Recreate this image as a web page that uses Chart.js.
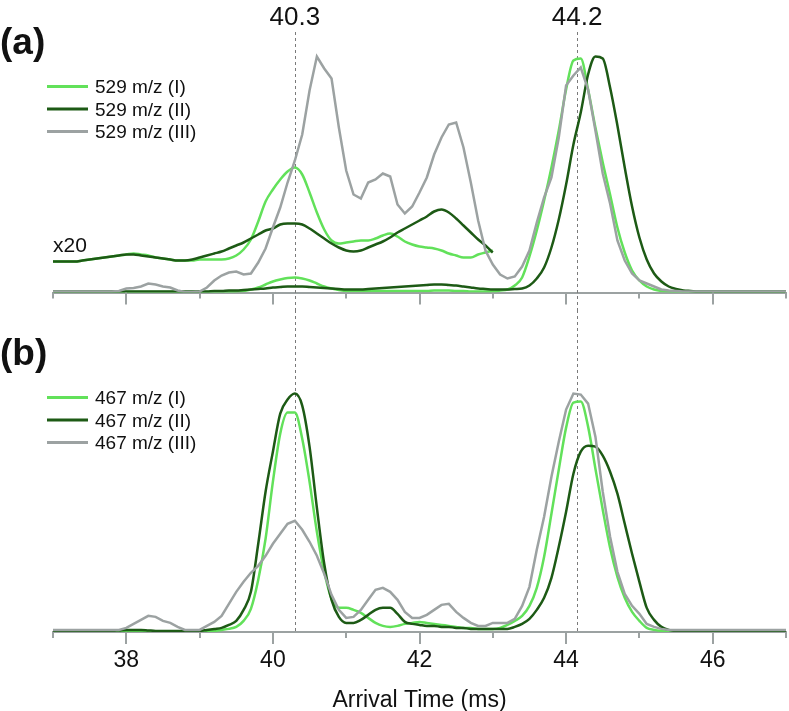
<!DOCTYPE html>
<html lang="en">
<head>
  <meta charset="UTF-8">
  <title>Arrival Time Distributions</title>
  <script src="https://cdn.jsdelivr.net/npm/chart.js"></script>
  <style>
    body { margin: 0; background: #fff; }
    #wrap { position: relative; width: 789px; height: 711px; }
    #wrap canvas { position: absolute; left: 0; }
  </style>
</head>
<body>
  <div id="wrap">
    <canvas id="chartA" width="789" height="310" style="top:0"></canvas>
    <canvas id="chartB" width="789" height="401" style="top:310px"></canvas>
  </div>

  <script>
    // arrival time grid (ms)
    const arrivalTimes = [
      37.0, 37.1, 37.2, 37.3, 37.4, 37.5, 37.6, 37.7, 37.8, 37.9,
      38.0, 38.1, 38.2, 38.3, 38.4, 38.5, 38.6, 38.7, 38.8, 38.9,
      39.0, 39.1, 39.2, 39.3, 39.4, 39.5, 39.6, 39.7, 39.8, 39.9,
      40.0, 40.1, 40.2, 40.3, 40.4, 40.5, 40.6, 40.7, 40.8, 40.9,
      41.0, 41.1, 41.2, 41.3, 41.4, 41.5, 41.6, 41.7, 41.8, 41.9,
      42.0, 42.1, 42.2, 42.3, 42.4, 42.5, 42.6, 42.7, 42.8, 42.9,
      43.0, 43.1, 43.2, 43.3, 43.4, 43.5, 43.6, 43.7, 43.8, 43.9,
      44.0, 44.1, 44.2, 44.3, 44.4, 44.5, 44.6, 44.7, 44.8, 44.9,
      45.0, 45.1, 45.2, 45.3, 45.4, 45.5, 45.6, 45.7, 45.8, 45.9,
      46.0, 46.1, 46.2, 46.3, 46.4, 46.5, 46.6, 46.7, 46.8, 46.9,
      47.0
    ];

    // panel (a): 529 m/z
    const a529_I = [
      0.5, 0.5, 0.5, 0.5, 0.5, 0.5, 0.5, 0.5, 0.5, 0.5,
      0.5, 0.5, 0.5, 0.5, 0.5, 0.5, 0.5, 0.5, 0.5, 0.5,
      0.5, 0.5, 0.5, 0.5, 0.5, 1, 1.5, 3, 5, 8,
      11, 13, 14.5, 15, 14, 12, 9, 6, 4, 2.5,
      1.5, 1.5, 1.5, 1.5, 1.5, 1.5, 1.5, 1.5, 1.5, 1.5,
      1.5, 1.5, 2, 2, 2, 1.5, 1.5, 1, 1, 1,
      1, 2, 3, 7, 15, 36, 62, 92, 125, 162,
      203, 232, 234, 203, 165, 130, 98, 65, 40, 22,
      12, 6, 3, 1.5, 1, 0.5, 0.5, 0.5, 0.5, 0.5,
      0.5, 0.5, 0.5, 0.5, 0.5, 0.5, 0.5, 0.5, 0.5, 0.5,
      0.5
    ];
    const a529_II = [
      1, 1, 1, 1, 1, 1, 1, 1, 1, 1,
      1, 1, 1, 1, 1, 1, 1, 1, 1, 1,
      1, 1, 1.5, 1.5, 2, 2, 2.5, 3, 3.5, 4,
      5, 5.5, 6, 6, 6, 5.5, 5, 4.5, 4, 3.5,
      3, 3, 3, 3.5, 4, 4.5, 5, 5.5, 6, 6.5,
      7, 7.5, 8, 8, 7.5, 7, 6, 5, 4, 3.5,
      3, 3, 3, 3.5, 4, 7, 14, 25, 45, 73,
      108, 148, 180, 218, 236, 234, 205, 167, 125, 86,
      55, 33, 19, 11, 6, 3.5, 2, 1.5, 1, 1,
      1, 1, 1, 1, 1, 1, 1, 1, 1, 1,
      1
    ];
    const a529_III = [
      1, 1, 1, 1, 1, 1, 1, 1, 1, 1.5,
      4, 4.5, 6, 9, 8, 6, 5, 2, 0.5, 0.5,
      1, 5, 12, 17, 20, 21, 18, 19, 30, 44,
      65, 85, 110, 132, 158, 202, 236, 224, 214, 165,
      122, 98, 94, 110, 113, 119, 116, 88, 79, 86,
      100, 115, 138, 155, 168, 170, 145, 110, 72, 42,
      28, 18, 14, 16, 26, 42, 70, 95, 115, 155,
      207, 217, 225, 203, 162, 119, 89, 52, 32, 19,
      12, 9, 6, 3, 2, 1.5, 1, 1, 1, 1,
      1, 1, 1, 1, 1, 1, 1, 1, 1, 1,
      1
    ];
    // x20 magnified traces, 37.0 - 43.0 ms
    const a529_I_x20 = [
      31, 31, 31, 31, 32, 33, 34, 35, 36, 37,
      38, 39, 38, 37, 35, 34, 33, 32, 32, 32,
      33, 33, 33, 33, 34, 37, 43, 53, 71, 91,
      103, 113, 121, 125, 118, 100, 80, 63, 52, 49,
      50, 51, 52, 52, 54, 57, 59, 56, 51, 48,
      46, 45, 44, 42, 39, 37, 35, 35, 38, 40,
      42
    ];
    const a529_II_x20 = [
      31, 31, 31, 31, 32, 33, 34, 35, 36, 37,
      38, 38, 37, 36, 35, 34, 33, 32, 32, 33,
      35, 37, 39, 41, 44, 47, 50, 54, 58, 62,
      64, 68, 69, 69, 68, 64, 59, 54, 49, 45,
      42, 41, 42, 45, 48, 51, 55, 60, 64, 68,
      72, 76, 81, 83, 80, 74, 67, 60, 53, 47,
      40
    ];

    // panel (b): 467 m/z
    const b467_I = [
      0.5, 0.5, 0.5, 0.5, 0.5, 0.5, 0.5, 0.5, 0.5, 0.5,
      0.5, 0.5, 0.5, 0.5, 0.5, 0.5, 0.5, 0.5, 0.5, 0.5,
      0.5, 1, 1, 2, 3, 5, 11, 23, 52, 93,
      150, 198, 219, 219, 193, 150, 100, 60, 33, 24,
      24, 22, 19, 14, 9, 6, 5, 6, 8, 9,
      10, 9, 8, 7, 6, 5, 4, 4, 3, 3,
      3, 4, 7, 11, 16, 26, 44, 75, 118, 162,
      204, 229, 230, 205, 163, 122, 84, 55, 34, 20,
      11, 4, 2, 1, 0.5, 0.5, 0.5, 0.5, 0.5, 0.5,
      0.5, 1, 1.5, 1, 0.5, 0.5, 0.5, 0.5, 0.5, 0.5,
      0.5
    ];
    const b467_II = [
      1, 1, 1, 1, 1, 1, 1, 1, 1, 1.5,
      2, 2, 2, 1.5, 1, 1, 1, 1, 1, 1,
      1, 2, 3, 4, 7, 11, 22, 40, 88, 140,
      180, 218, 232, 238, 226, 185, 124, 68, 32, 15,
      9, 9, 12, 17, 22, 24, 24, 18, 10, 8,
      7, 6, 6, 5, 5, 4, 4, 3, 3, 3,
      3, 3, 3, 5, 8, 13, 22, 34, 54, 85,
      120, 158, 180, 186, 185, 176, 160, 138, 108, 78,
      50, 24, 12, 5, 2, 1, 1, 1, 1, 1,
      1, 1, 1, 1, 1, 1, 1, 1, 1, 1,
      1
    ];
    const b467_III = [
      2, 2, 2, 2, 2, 2, 2, 2, 2, 2,
      4, 8, 12, 16, 15, 11, 9, 5, 2, 2,
      2, 6, 10, 16, 28, 40, 50, 59, 66, 76,
      88, 98, 108, 111, 102, 90, 76, 58, 37, 22,
      14, 15, 22, 32, 42, 44, 40, 32, 20, 14,
      14, 17, 22, 27, 28, 20, 14, 9, 6, 6,
      9, 9, 9, 13, 26, 45, 82, 115, 155, 190,
      222, 238, 237, 228, 195, 140, 95, 60, 38, 26,
      18, 8, 5, 3, 2, 2, 2, 2, 2, 2,
      2, 2, 2, 2, 2, 2, 2, 2, 2, 2,
      2
    ];

    const tickMarkTimes = [37, 38, 39, 40, 41, 42, 43, 44, 45, 46, 47];
    const tickLabelTimes = [38, 40, 42, 44, 46];
    const markerTimes = [40.3, 44.15];
    const markerLabels = ['40.3', '44.2'];

    const FONT = '"Liberation Sans", Arial, Helvetica, sans-serif';
    const LIGHT = '#62e15a';
    const DARK = '#1d5a15';
    const GREY = '#9ca2a2';
    const AXIS = '#9ca2a2';

    Chart.defaults.font.family = FONT;

    function pts(values) {
      return values.map((v, i) => ({ x: arrivalTimes[i], y: v }));
    }

    function trace(label, values, color, order, smooth) {
      return {
        label: label,
        data: pts(values),
        borderColor: color,
        backgroundColor: color,
        borderWidth: 2.5,
        pointRadius: 0,
        fill: false,
        order: order,
        cubicInterpolationMode: smooth ? 'monotone' : 'default',
        tension: 0
      };
    }

    // per-panel decorations (canvas coordinates)
    const panels = {
      chartA: { tag: '(a)', tagY: 54, markerTop: 32, markerBottom: 310, showMarkerLabels: true, legendY: 86.5, x20: true },
      chartB: { tag: '(b)', tagY: 55, markerTop: 0, markerBottom: null, showMarkerLabels: false, legendY: 87.5, x20: false }
    };

    const panelDecor = {
      id: 'panelDecor',
      beforeDatasetsDraw(chart) {
        const p = panels[chart.canvas.id];
        const ctx = chart.ctx;
        const xs = chart.scales.x;
        ctx.save();
        ctx.strokeStyle = '#7a7a7a';
        ctx.lineWidth = 1;
        ctx.setLineDash([3, 3]);
        markerTimes.forEach(t => {
          const px = Math.round(xs.getPixelForValue(t)) + 0.5;
          ctx.beginPath();
          ctx.moveTo(px, p.markerTop);
          ctx.lineTo(px, p.markerBottom === null ? chart.chartArea.bottom : p.markerBottom);
          ctx.stroke();
        });
        ctx.restore();
      },
      afterDraw(chart) {
        const p = panels[chart.canvas.id];
        const ctx = chart.ctx;
        const xs = chart.scales.x;
        const base = chart.chartArea.bottom;
        ctx.save();

        // tick marks: long at labelled times, short in between
        ctx.strokeStyle = AXIS;
        ctx.lineWidth = 2;
        tickMarkTimes.forEach(t => {
          const px = Math.round(xs.getPixelForValue(t));
          const len = tickLabelTimes.includes(t) ? 12 : 6;
          ctx.beginPath();
          ctx.moveTo(px, base);
          ctx.lineTo(px, base + len);
          ctx.stroke();
        });

        ctx.fillStyle = '#111';
        ctx.textBaseline = 'alphabetic';

        // marker labels
        if (p.showMarkerLabels) {
          ctx.font = '26px ' + FONT;
          ctx.textAlign = 'center';
          markerTimes.forEach((t, i) => {
            ctx.fillText(markerLabels[i], xs.getPixelForValue(t), 25);
          });
        }

        // panel tag
        ctx.font = 'bold 37px ' + FONT;
        ctx.textAlign = 'left';
        ctx.fillText(p.tag, 0, p.tagY);

        // x20 note
        if (p.x20) {
          ctx.font = '21px ' + FONT;
          ctx.fillText('x20', 53, 252);
        }

        // legend
        ctx.font = '19px ' + FONT;
        let row = 0;
        chart.data.datasets.forEach(ds => {
          if (ds.hideInLegend) return;
          const y = p.legendY + row * 22.5;
          ctx.strokeStyle = ds.borderColor;
          ctx.lineWidth = 3;
          ctx.beginPath();
          ctx.moveTo(47, y);
          ctx.lineTo(88, y);
          ctx.stroke();
          ctx.fillText(ds.label, 95, y + 6.5);
          row++;
        });
        ctx.restore();
      }
    };

    function makeChart(id, datasets, padding, yMax, showLabels) {
      return new Chart(document.getElementById(id), {
        type: 'line',
        data: { datasets: datasets },
        options: {
          responsive: false,
          animation: false,
          layout: { padding: padding },
          plugins: {
            legend: { display: false },
            tooltip: { enabled: false }
          },
          scales: {
            x: {
              type: 'linear',
              min: 37,
              max: 47,
              grid: { display: false, drawTicks: false },
              border: { display: true, color: AXIS, width: 2 },
              afterBuildTicks: axis => { axis.ticks = tickLabelTimes.map(v => ({ value: v })); },
              ticks: {
                display: showLabels,
                padding: 15,
                color: '#111',
                font: { size: 23 }
              },
              title: {
                display: showLabels,
                text: 'Arrival Time (ms)',
                color: '#111',
                font: { size: 23, lineHeight: 1 },
                padding: { top: -0.5, bottom: -1 }
              }
            },
            y: { display: false, min: 0, max: yMax }
          }
        },
        plugins: [panelDecor]
      });
    }

    const dsA = [
      trace('529 m/z (I)', a529_I, LIGHT, 2, true),
      trace('529 m/z (II)', a529_II, DARK, 1, true),
      trace('529 m/z (III)', a529_III, GREY, 0, false),
      Object.assign(trace('529 m/z (I) x20', a529_I_x20, LIGHT, 4, true), { hideInLegend: true }),
      Object.assign(trace('529 m/z (II) x20', a529_II_x20, DARK, 3, true), { hideInLegend: true })
    ];
    const dsB = [
      trace('467 m/z (I)', b467_I, LIGHT, 2, true),
      trace('467 m/z (II)', b467_II, DARK, 1, true),
      trace('467 m/z (III)', b467_III, GREY, 0, false)
    ];

    makeChart('chartA', dsA, { left: 53, right: 3, top: 40, bottom: 17.5 }, 252.5, false);
    makeChart('chartB', dsB, { left: 53, right: 3, top: 30, bottom: 0 }, 291.5, true);
  </script>
</body>
</html>
